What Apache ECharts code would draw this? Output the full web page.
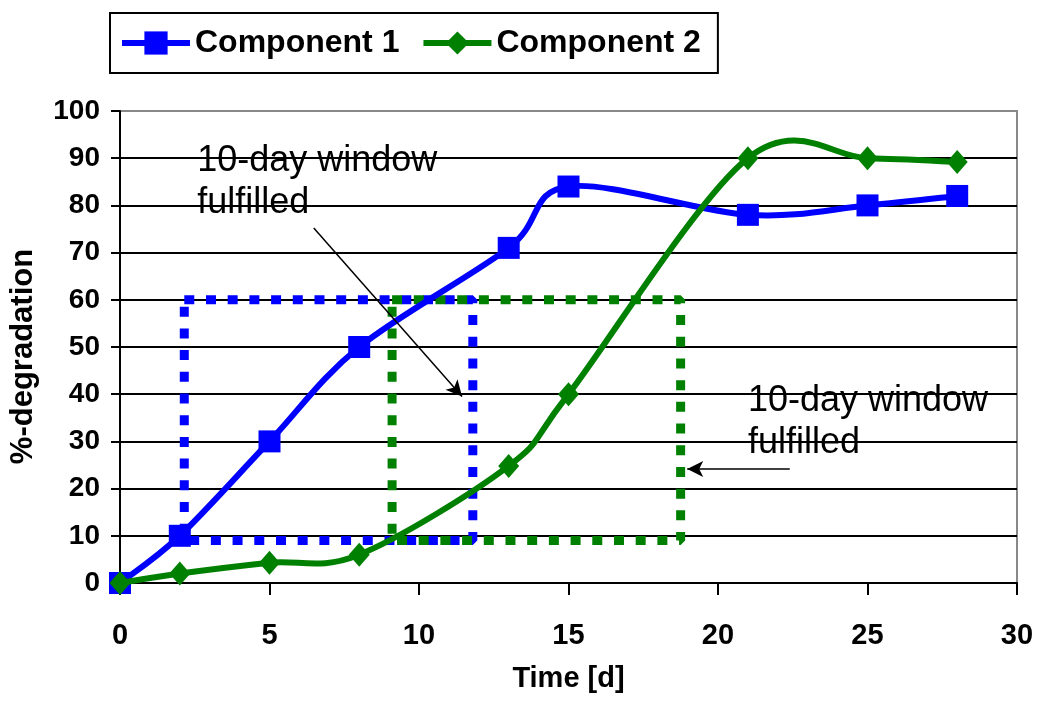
<!DOCTYPE html>
<html><head><meta charset="utf-8">
<script src="https://cdn.jsdelivr.net/npm/echarts@6.0.0/dist/echarts.min.js"></script>
<style>html,body{margin:0;padding:0;background:#fff}#c{width:1039px;height:713px}</style>
</head><body><div id="c"></div>
<script>
// ---- data ----
const days = [0, 2, 5, 8, 13, 15, 21, 25, 28];
const comp1 = [0, 10, 30, 50, 71, 84, 78, 80, 82];
const comp2 = [0, 2, 4.3, 6, 24.8, 40, 90, 90, 89.2];
const seriesNames = ['Component 1', 'Component 2'];
const window1X = [2.15, 11.8];
const window2X = [9.1, 18.75];
const windowY = [9, 60];
const noteText = '10-day window\nfulfilled';
const notePoints = [[2.58, 93.75], [21.0, 42.9]];
const arrow1 = [[6.48, 75.2], [11.44, 39.5]];
const arrow2 = [[22.4, 24.15], [18.97, 24.15]];

const FONT = "'Liberation Sans', Arial, sans-serif";
const BLUE = '#0000ff', GREEN = '#008000';
const pairs = (xs, ys) => xs.map((x, i) => [x, ys[i]]);
const rect = (xs, ys) => [[xs[0], ys[1]], [xs[1], ys[1]], [xs[1], ys[0]], [xs[0], ys[0]], [xs[0], ys[1]]];

// Spreadsheet-style smoothed curve (cubic Bezier, control points at +-1/6 of neighbour chord),
// positioned through the chart's own coordinate system (api.coord).
function smoothCurve(xs, ys, color, z) {
  return {
    type: 'custom', silent: true, z: z, clip: false,
    data: pairs(xs, ys),
    encode: {x: 0, y: 1},
    renderItem: function (params, api) {
      if (params.dataIndex !== 0) return null;
      const p = xs.map((x, i) => api.coord([x, ys[i]]));
      const n = p.length;
      let d = 'M' + p[0][0] + ' ' + p[0][1];
      for (let i = 0; i < n - 1; i++) {
        const a = p[Math.max(i - 1, 0)], b = p[i], c = p[i + 1], e = p[Math.min(i + 2, n - 1)];
        const c1x = b[0] + (c[0] - a[0]) / 6, c1y = b[1] + (c[1] - a[1]) / 6;
        const c2x = c[0] - (e[0] - b[0]) / 6, c2y = c[1] - (e[1] - b[1]) / 6;
        d += ' C' + c1x + ' ' + c1y + ' ' + c2x + ' ' + c2y + ' ' + c[0] + ' ' + c[1];
      }
      return {
        type: 'path', shape: {pathData: d},
        style: {fill: null, stroke: color, lineWidth: 6, lineJoin: 'round', lineCap: 'round'}
      };
    }
  };
}

const chart = echarts.init(document.getElementById('c'), null, {renderer: 'canvas'});
chart.setOption({
  animation: false,
  textStyle: {fontFamily: FONT},
  grid: {left: 120, right: 22, top: 111, bottom: 130, show: true, borderColor: '#888', borderWidth: 2, backgroundColor: 'transparent'},
  legend: {
    data: seriesNames,
    left: 110, top: 13,
    orient: 'horizontal',
    padding: [14, 17, 14, 9],
    itemGap: 21,
    itemWidth: 68, itemHeight: 29,
    borderColor: '#000', borderWidth: 2,
    backgroundColor: '#fff',
    lineStyle: {width: 6, opacity: 1},
    textStyle: {fontFamily: FONT, fontSize: 32, fontWeight: 'bold', color: '#000'}
  },
  xAxis: {
    type: 'value', min: 0, max: 30, interval: 5,
    name: 'Time [d]', nameLocation: 'middle', nameGap: 81,
    nameTextStyle: {fontFamily: FONT, fontSize: 29, fontWeight: 'bold', color: '#000'},
    axisLine: {show: true, onZero: false, lineStyle: {color: '#000', width: 2}},
    axisTick: {show: true, length: 12, lineStyle: {color: '#000', width: 2}},
    axisLabel: {margin: 38, fontFamily: FONT, fontSize: 29, fontWeight: 'bold', color: '#000'},
    splitLine: {show: false}
  },
  yAxis: {
    type: 'value', min: 0, max: 100, interval: 10,
    name: '%-degradation', nameLocation: 'middle', nameGap: 81,
    nameTextStyle: {fontFamily: FONT, fontSize: 31, fontWeight: 'bold', color: '#000', padding: [0, 19, 0, 0]},
    axisLine: {show: true, onZero: false, lineStyle: {color: '#000', width: 2}},
    axisTick: {show: true, length: 9, lineStyle: {color: '#000', width: 2}},
    axisLabel: {margin: 20, fontFamily: FONT, fontSize: 28, fontWeight: 'bold', color: '#000'},
    splitLine: {show: true, showMinLine: false, showMaxLine: false, lineStyle: {color: '#000', width: 2}}
  },
  series: [
    {
      name: 'window1', type: 'line', data: rect(window1X, windowY), symbol: 'none', silent: true, z: 1,
      lineStyle: {color: BLUE, width: 9, type: [10, 11.7], cap: 'butt'}
    },
    {
      name: 'window2', type: 'line', data: rect(window2X, windowY), symbol: 'none', silent: true, z: 1,
      lineStyle: {color: GREEN, width: 9, type: [10, 11.7], cap: 'butt'}
    },
    smoothCurve(days, comp1, BLUE, 2),
    {
      name: seriesNames[0], type: 'line', data: pairs(days, comp1), z: 3,
      symbol: 'rect', symbolSize: 22,
      itemStyle: {color: BLUE},
      lineStyle: {color: BLUE, width: 6, opacity: 0}
    },
    smoothCurve(days, comp2, GREEN, 4),
    {
      name: seriesNames[1], type: 'line', data: pairs(days, comp2), z: 5,
      symbol: 'diamond', symbolSize: [21, 24],
      itemStyle: {color: GREEN},
      lineStyle: {color: GREEN, width: 6, opacity: 0}
    },
    {
      name: 'notes', type: 'scatter', data: notePoints, symbolSize: 0, silent: true, z: 6,
      itemStyle: {opacity: 1},
      label: {
        show: true, position: [0, 0], align: 'left', verticalAlign: 'top',
        formatter: () => noteText,
        fontFamily: FONT, fontSize: 36, lineHeight: 42, color: '#000'
      },
      markLine: {
        silent: true, symbol: ['none', 'arrow'], symbolSize: [12, 16],
        label: {show: false},
        lineStyle: {color: '#000', width: 1.5, type: 'solid', opacity: 1},
        data: [
          [{coord: arrow1[0]}, {coord: arrow1[1]}],
          [{coord: arrow2[0]}, {coord: arrow2[1]}]
        ]
      }
    }
  ]
});
</script>
</body></html>
